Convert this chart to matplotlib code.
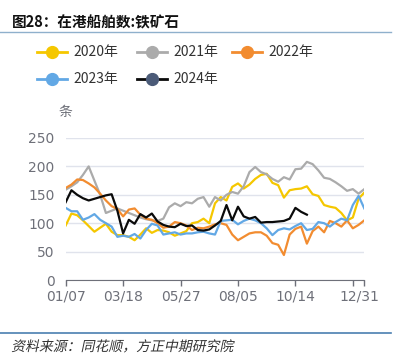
import matplotlib.pyplot as plt
from matplotlib.lines import Line2D
from matplotlib.patheffects import AbstractPathEffect
from matplotlib.transforms import Affine2D
import numpy as np

plt.rcParams['font.family'] = ['Noto Sans CJK SC', 'DejaVu Sans']

# 周度数据（01/07 起，共 53 周）
years = ['2020年', '2021年', '2022年', '2023年', '2024年']
ships_2020 = [96, 117, 114, 105, 95, 85, 92, 99, 85, 79, 79, 76, 70, 80, 91, 83, 88, 87,
              84, 78, 82, 86, 100, 102, 108, 100, 135, 146, 140, 164, 170, 161, 168, 178,
              185, 187, 171, 167, 145, 158, 160, 161, 165, 151, 148, 132, 129, 127, 118,
              105, 110, 143, 154]
ships_2021 = [159, 165, 172, 185, 200, 175, 150, 118, 122, 126, 122, 118, 114, 110, 107,
              105, 104, 108, 128, 135, 130, 137, 135, 143, 146, 129, 146, 140, 150, 155,
              152, 165, 190, 199, 190, 186, 178, 173, 181, 177, 195, 196, 208, 204, 193,
              180, 178, 172, 165, 157, 160, 152, 160]
ships_2022 = [162, 168, 177, 176, 170, 163, 152, 140, 130, 125, 112, 124, 126, 115, 108,
              106, 100, 92, 94, 102, 100, 96, 88, 92, 91, 94, 98, 100, 97, 80, 70, 76, 82,
              84, 84, 78, 65, 62, 44, 80, 90, 94, 64, 86, 94, 84, 104, 100, 94, 105, 91,
              97, 105]
ships_2023 = [127, 121, 121, 106, 110, 116, 106, 100, 94, 76, 78, 76, 81, 73, 88, 99, 96,
              80, 82, 84, 80, 82, 82, 84, 85, 82, 80, 104, 105, 106, 98, 104, 108, 105, 100,
              91, 79, 88, 91, 89, 95, 100, 88, 90, 102, 100, 94, 102, 108, 105, 132, 148,
              126]
ships_2024 = [137, 158, 150, 144, 140, 143, 146, 149, 151, 122, 82, 106, 99, 116, 110, 117,
              103, 97, 94, 93, 99, 95, 96, 88, 87, 89, 96, 104, 132, 105, 129, 112, 108,
              111, 101, 102, 102, 103, 104, 108, 127, 120, 115]
series = [ships_2020, ships_2021, ships_2022, ships_2023, ships_2024]
line_colors = ['#F5C700', '#ABABAB', '#F28C30', '#62A8E5', '#0A0A0A']
marker_colors = ['#F5C700', '#ABABAB', '#F28C30', '#62A8E5', '#4B5B78']

x_ticks = [0, 10, 20, 30, 40, 50, 52]
x_labels = ['01/07', '03/18', '05/27', '08/05', '10/14', '', '']

W, H = 396, 360


class Slant(AbstractPathEffect):
    """把文字按基线倾斜，模拟斜体（CJK 字体没有斜体）"""
    def __init__(self, y0, deg=12):
        super().__init__()
        self.y0 = y0
        self.deg = deg

    def draw_path(self, renderer, gc, tpath, affine, rgbFace=None):
        sk = Affine2D().translate(0, -self.y0).skew_deg(self.deg, 0).translate(0, self.y0)
        renderer.draw_path(gc, tpath, affine + sk, rgbFace)


fig = plt.figure(figsize=(W / 100, H / 100), dpi=100)
ax = fig.add_axes([65.7 / W, 1 - 280 / H, (364.3 - 65.7) / W, (280 - 138) / H])

for vals, c in zip(series, line_colors):
    ax.plot(np.arange(len(vals)), vals, color=c, lw=1.6, solid_joinstyle='round')

ax.set_xlim(0, 52)
ax.set_ylim(0, 250)
ax.set_yticks([0, 50, 100, 150, 200, 250])
ax.set_xticks(x_ticks)
ax.set_xticklabels(x_labels)
ax.text(51.2, -0.115, '12/31', transform=ax.get_xaxis_transform(),
        ha='center', va='center', fontsize=10, color='#6E7079', family='DejaVu Sans')
ax.tick_params(axis='y', length=0, labelsize=10, labelcolor='#6E7079', pad=8)
ax.tick_params(axis='x', length=4, width=1, color='#6E7079', labelsize=10,
               labelcolor='#6E7079', pad=3)
for lab in ax.get_xticklabels() + ax.get_yticklabels():
    lab.set_family('DejaVu Sans')
ax.grid(axis='y', color='#E0E3EC', lw=1)
ax.set_axisbelow(True)
for s in ['top', 'right', 'left']:
    ax.spines[s].set_visible(False)
ax.spines['bottom'].set_color('#6E7079')
ax.spines['bottom'].set_zorder(3)

# 单位
fig.text(65 / W, 1 - 112 / H, '条', ha='center', va='center', fontsize=10, color='#6E7079')

# 标题与分隔线
fig.text(12 / W, 1 - 22 / H, '图28：在港船舶数:铁矿石', ha='left', va='center',
         fontsize=10.5, weight='bold', color='#111111')
fig.add_artist(Line2D([0, 391 / W], [1 - 32 / H, 1 - 32 / H], transform=fig.transFigure,
                      color='#8FB0CC', lw=1))
fig.add_artist(Line2D([0, 391 / W], [1 - 333 / H, 1 - 333 / H], transform=fig.transFigure,
                      color='#4A7FB0', lw=1.2))
fig.text(12 / W, 1 - 347 / H, '资料来源：同花顺，方正中期研究院', ha='left', va='center',
         fontsize=10, color='#333333', path_effects=[Slant(H - 347)])

# 图例
legend_pos = [(37, 52), (137, 52), (232, 52), (37, 79), (137, 79)]
for (lx, ly), name, lc, mc in zip(legend_pos, years, line_colors, marker_colors):
    fy = 1 - ly / H
    fig.add_artist(Line2D([lx / W, (lx + 30) / W], [fy, fy], transform=fig.transFigure,
                          color=lc, lw=2))
    fig.add_artist(Line2D([(lx + 15) / W], [fy], transform=fig.transFigure, marker='o',
                          markersize=8.5, color=mc, markeredgecolor=mc))
    fig.text((lx + 36) / W, fy, name, ha='left', va='center', fontsize=10, color='#333333')

fig.savefig('out.png', dpi=100)
